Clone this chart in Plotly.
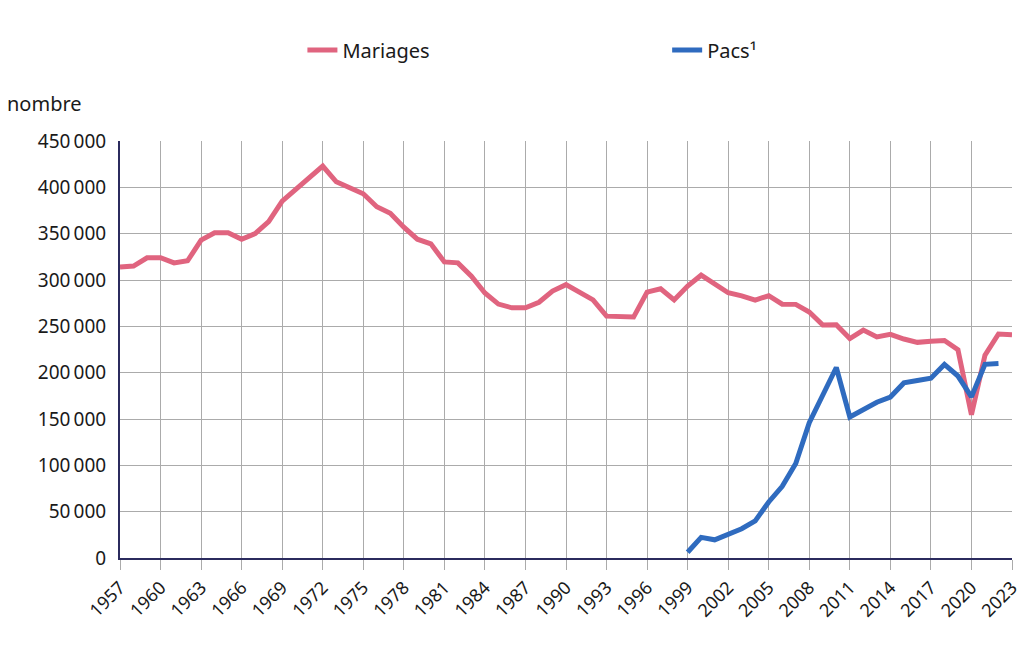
import plotly.graph_objects as go

years_mariages = list(range(1957, 2024))
mariages = [
    314000, 315000, 324000, 324000, 318500, 320700, 343000, 351000, 351000, 344000,
    350000, 363000, 385000, 398000, 411000, 423000, 406000, 400000, 393000, 379000,
    372000, 357000, 344000, 339000, 319500, 318500, 304000, 286000, 274000, 270000,
    270000, 276000, 288000, 295000, 286000, 278500, 261000, 260000, 260000, 287000,
    290500, 278500, 293500, 305200, 295700, 286200, 282800, 278400, 283000, 273900,
    273700, 265400, 251500, 251700, 236800, 245900, 238600, 241300, 236300, 232700,
    233900, 234700, 224700, 154600, 218800, 241700, 241000,
]

years_pacs = list(range(1999, 2023))
pacs = [
    6151, 22271, 19629, 25305, 31585, 40080, 60473, 77347, 101978, 146030,
    174523, 205561, 152176, 160690, 168126, 173728, 188947, 191537, 194000, 208871,
    196370, 173894, 209000, 209800,
]

x_ticks = list(range(1957, 2024, 3))
y_ticks = list(range(0, 450001, 50000))

pink = "#e0647f"
blue = "#2f6bbf"
grid = "#ababab"
axis_col = "#2b2b5e"
font_family = "Noto Sans, Open Sans, sans-serif"

fig = go.Figure()
fig.add_trace(go.Scatter(x=years_mariages, y=mariages, mode="lines", name="Mariages",
                         line=dict(color=pink, width=5), legend="legend"))
fig.add_trace(go.Scatter(x=years_pacs, y=pacs, mode="lines", name="Pacs¹",
                         line=dict(color=blue, width=5), legend="legend2"))

legend_common = dict(orientation="h", yanchor="middle", y=1.218, xanchor="left",
                     font=dict(size=20, family=font_family, color="#1a1a1a"),
                     bgcolor="rgba(0,0,0,0)")

fig.update_layout(
    width=1024, height=663,
    margin=dict(l=120, r=12, t=141, b=105, autoexpand=False),
    paper_bgcolor="white", plot_bgcolor="white",
    font=dict(family=font_family, size=18, color="#1a1a1a"),
    separators=",\u202f",
    showlegend=True,
    legend=dict(x=0.2045, **legend_common),
    legend2=dict(x=0.6134, **legend_common),
    annotations=[dict(text="nombre", xref="paper", yref="paper", x=-0.129, y=1.091,
                      xanchor="left", yanchor="middle", showarrow=False,
                      font=dict(size=20, family=font_family, color="#1a1a1a"))],
)
fig.update_xaxes(range=[1957, 2023], tickvals=x_ticks, tickangle=-45,
                 showgrid=True, gridcolor=grid, gridwidth=1,
                 ticks="outside", ticklen=10, tickcolor=grid, tickwidth=1,
                 showline=True, linecolor=axis_col, linewidth=2,
                 tickfont=dict(size=18), zeroline=False, automargin=False)
fig.update_yaxes(range=[0, 450000], tickvals=y_ticks, tickformat=",d",
                 showgrid=True, gridcolor=grid, gridwidth=1,
                 showline=True, linecolor=axis_col, linewidth=2,
                 ticks="", ticklabelstandoff=8, tickfont=dict(size=19), zeroline=False,
                 automargin=False)

fig.write_html("out.html", config={"displayModeBar": False},
               post_script="document.body.style.margin='0';")
